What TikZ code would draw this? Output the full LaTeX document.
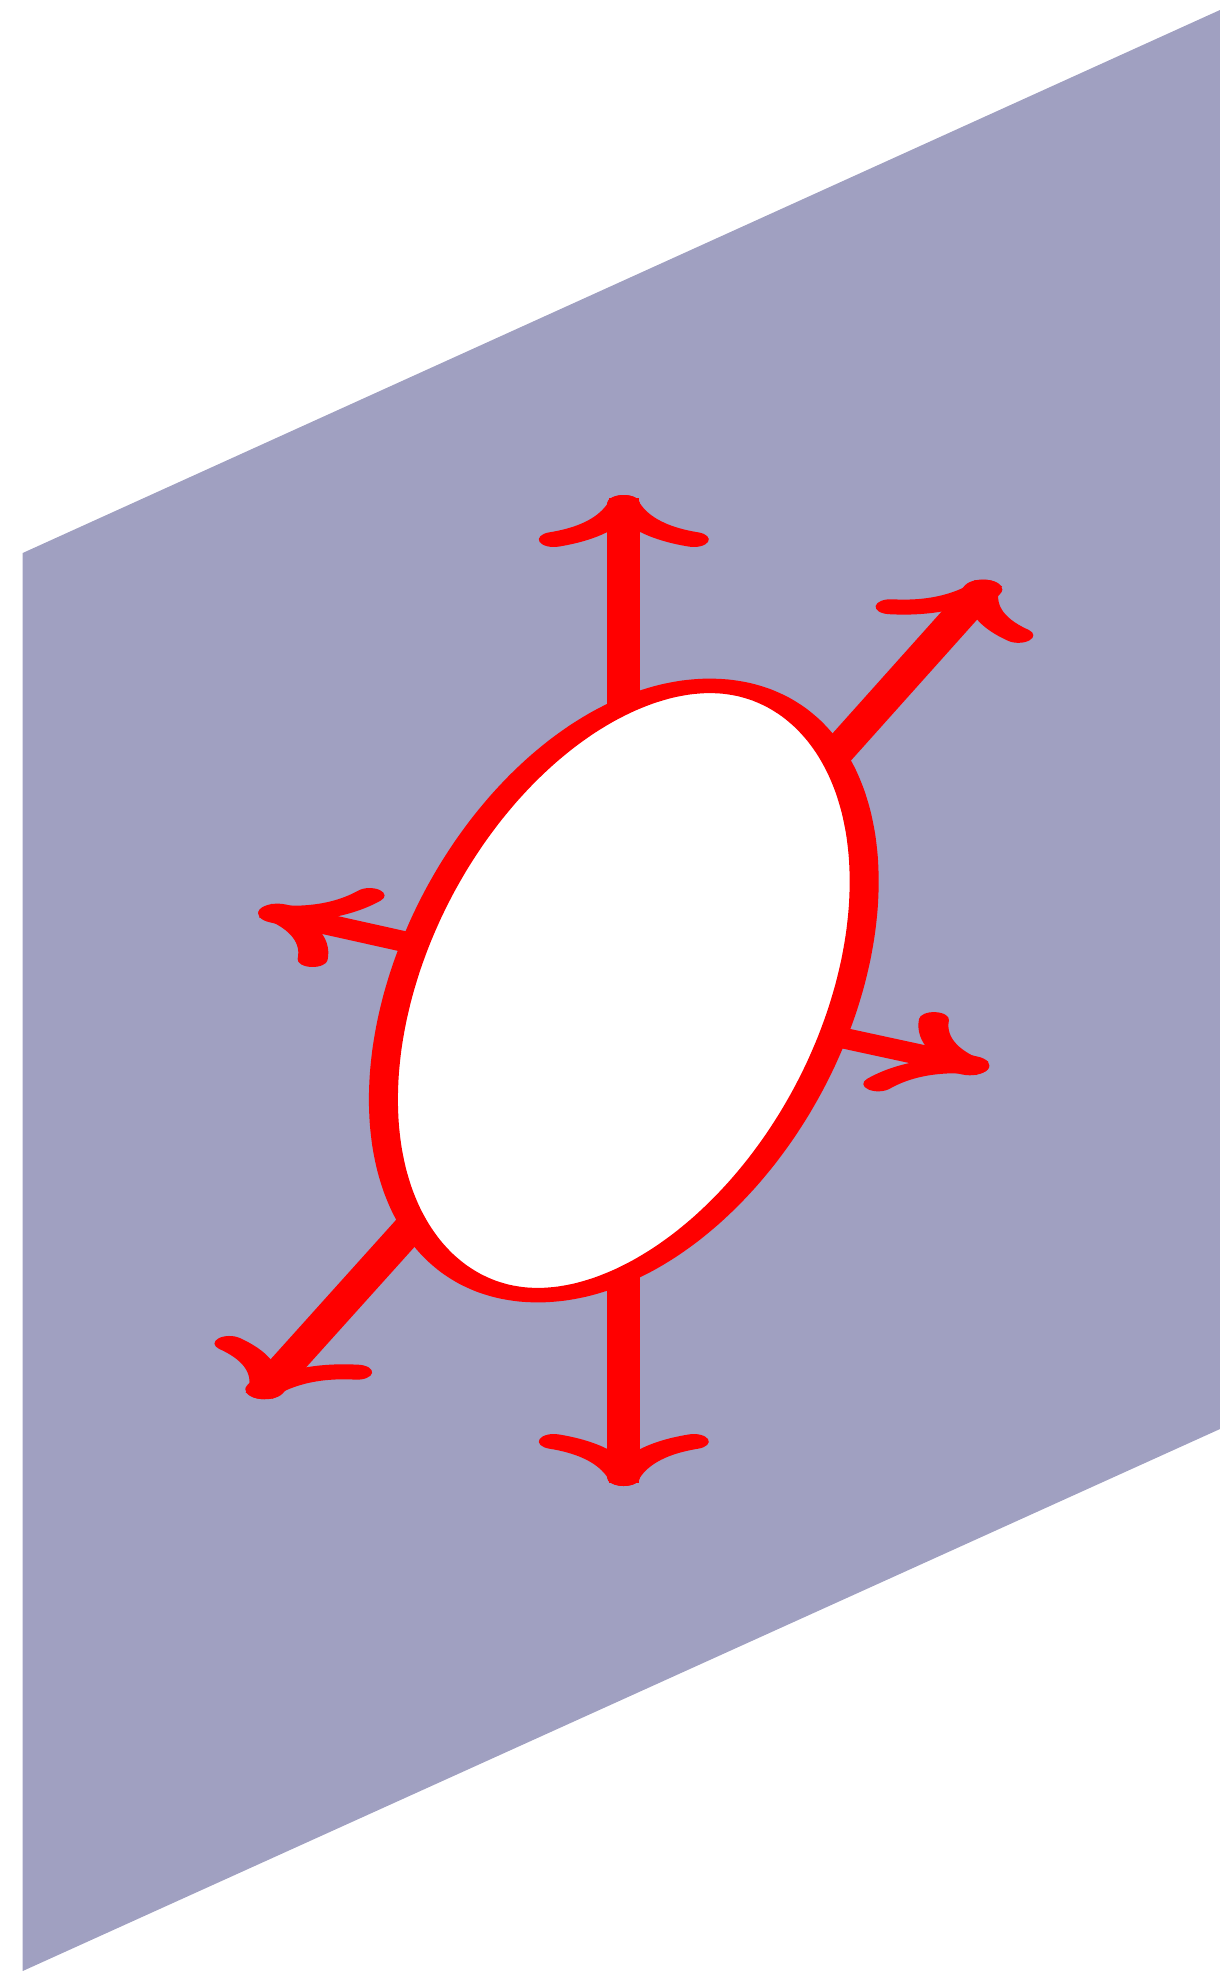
\documentclass[tikz,border=0pt]{standalone}
\usetikzlibrary{arrows.meta,calc}
\definecolor{planecol}{RGB}{160,160,193}
\definecolor{arrred}{RGB}{255,0,0}
\begin{document}
\begin{tikzpicture}[x=1pt,y=-1pt,
  plane/.style={fill=planecol},
  shaft/.style={draw=arrred,line width=#1,line cap=round,shorten >=0.5*#1},
  head/.style={draw=arrred,line width=15pt,-{Computer Modern Rightarrow[length=52pt,width=85pt]}},
  ring/.style={fill=white,draw=arrred,line width=14.5pt}]
\useasboundingbox (0,0) rectangle (1220,1971);
% plane
\fill[plane] (22.7,553) -- (1220,10) -- (1220,1429) -- (22.7,1971) -- cycle;
% the drawing, stretched horizontally by 2
\begin{scope}[x=0.5pt,transform canvas={xscale=2}]
  % centre and arrow tips
  \coordinate (c) at (623.8,990.5);
  \coordinate (tU) at (623.8,495);
  \coordinate (tD) at (623.8,1486);
  \coordinate (tUR) at (990.8,580.4);
  \coordinate (tDL) at (256.8,1398.4);
  \coordinate (tL) at (259.8,909.4);
  \coordinate (tR) at (987.8,1069.4);
  % arrows
  \foreach \t/\w in {tU/16.5pt,tD/16.5pt,tUR/19.5pt,tDL/19.5pt,tL/19.5pt,tR/19.5pt}{
    \draw[shaft=\w] (c) -- (\t);
    \draw[head] ($(\t)!3pt!(c)$) -- (\t);
  }
  % ring
  \draw[ring] plot[smooth cycle,samples=72,domain=0:355]
    ({623.8+240.4*cos(\x)},{990.5-109*cos(\x)-284.5*sin(\x)});
\end{scope}
\end{tikzpicture}
\end{document}
